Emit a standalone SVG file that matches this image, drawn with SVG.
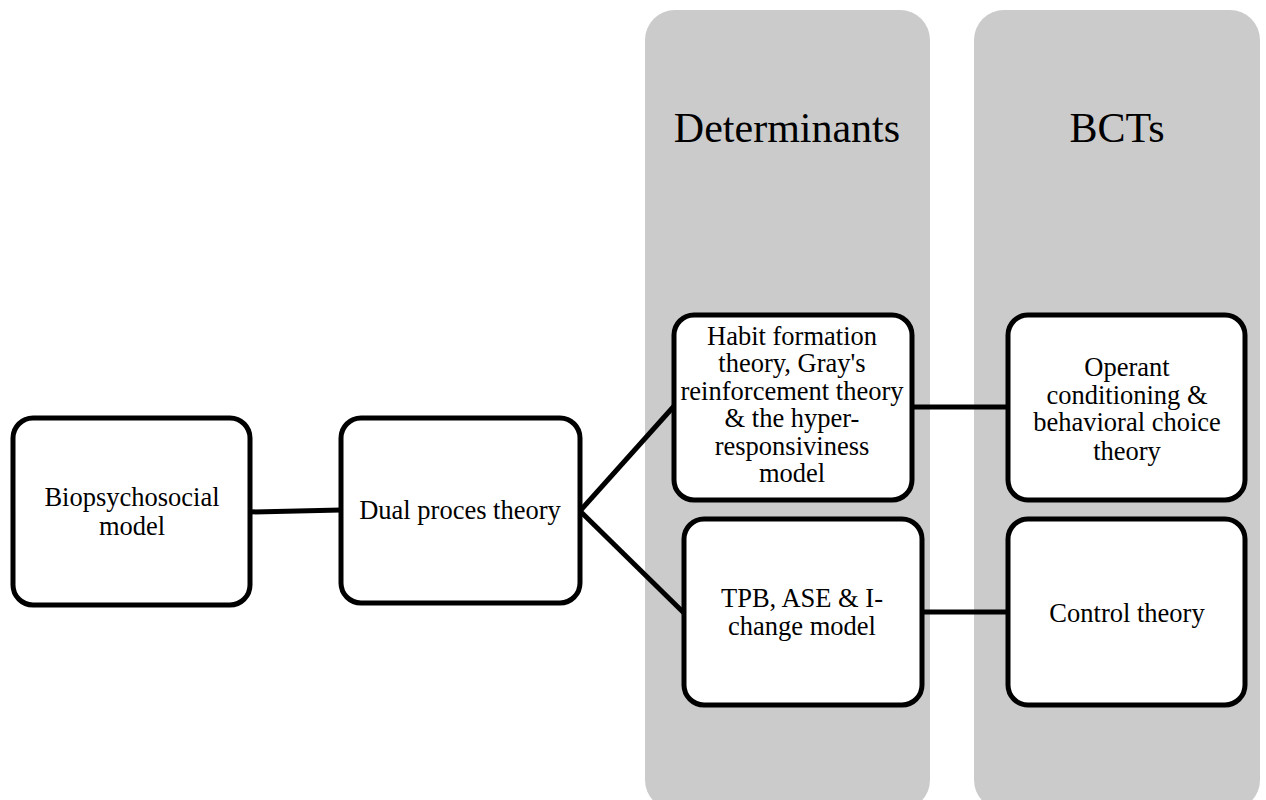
<svg xmlns="http://www.w3.org/2000/svg" width="1266" height="800" viewBox="0 0 1266 800">
  <style>
    .panel { fill: #cbcbcb; }
    .box { fill: #ffffff; stroke: #000000; stroke-width: 5; }
    .edge { stroke: #000000; stroke-width: 5; fill: none; }
    .lbl { font-family: "Liberation Serif", "Times New Roman", serif; font-size: 26.5px; fill: #000000; text-anchor: middle; }
    .head { font-family: "Liberation Serif", "Times New Roman", serif; font-size: 42px; fill: #000000; text-anchor: middle; }
  </style>

  <!-- column backgrounds -->
  <g id="col-determinants">
    <rect class="panel" x="645" y="10" width="285" height="800" rx="30" ry="30"/>
    <text class="head" x="787" y="142">Determinants</text>
  </g>
  <g id="col-bcts">
    <rect class="panel" x="974" y="10" width="286" height="800" rx="30" ry="30"/>
    <text class="head" x="1117" y="142">BCTs</text>
  </g>

  <!-- connectors -->
  <g id="connectors">
    <line class="edge" x1="250" y1="512" x2="341" y2="510"/>
    <line class="edge" x1="580" y1="511" x2="675" y2="405"/>
    <line class="edge" x1="580" y1="511" x2="685" y2="614"/>
    <line class="edge" x1="912" y1="407" x2="1008" y2="407"/>
    <line class="edge" x1="922" y1="612" x2="1008" y2="612"/>
  </g>

  <g id="node-biopsychosocial">
    <rect class="box" x="13" y="418" width="237" height="187" rx="20" ry="20"/>
    <text class="lbl" x="132" y="506">Biopsychosocial</text>
    <text class="lbl" x="132" y="535">model</text>
  </g>

  <g id="node-dual-process">
    <rect class="box" x="341" y="418" width="239" height="185" rx="20" ry="20"/>
    <text class="lbl" x="460" y="519">Dual proces theory</text>
  </g>

  <g id="node-habit">
    <rect class="box" x="674" y="315" width="238" height="185" rx="20" ry="20"/>
    <text class="lbl" x="792" y="345">Habit formation</text>
    <text class="lbl" x="792" y="372">theory, Gray's</text>
    <text class="lbl" x="792" y="400">reinforcement theory</text>
    <text class="lbl" x="792" y="427">&amp; the hyper-</text>
    <text class="lbl" x="792" y="455">responsiviness</text>
    <text class="lbl" x="792" y="482">model</text>
  </g>

  <g id="node-tpb">
    <rect class="box" x="684" y="519" width="238" height="186" rx="20" ry="20"/>
    <text class="lbl" x="802" y="607">TPB, ASE &amp; I-</text>
    <text class="lbl" x="802" y="635">change model</text>
  </g>

  <g id="node-operant">
    <rect class="box" x="1008" y="315" width="237" height="185" rx="20" ry="20"/>
    <text class="lbl" x="1127" y="376">Operant</text>
    <text class="lbl" x="1127" y="404">conditioning &amp;</text>
    <text class="lbl" x="1127" y="431">behavioral choice</text>
    <text class="lbl" x="1127" y="460">theory</text>
  </g>

  <g id="node-control">
    <rect class="box" x="1008" y="519" width="237" height="186" rx="20" ry="20"/>
    <text class="lbl" x="1127" y="622">Control theory</text>
  </g>
</svg>
